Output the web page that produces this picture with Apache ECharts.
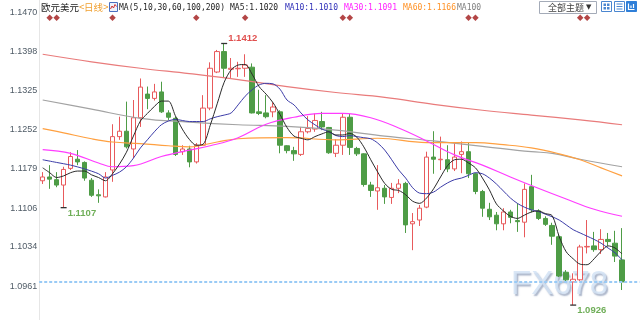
<!DOCTYPE html>
<html><head><meta charset="utf-8">
<script src="https://cdn.jsdelivr.net/npm/echarts@6/dist/echarts.min.js"></script>
<style>html,body{margin:0;padding:0;background:#fff}#c{width:640px;height:320px}</style>
</head><body><div id="c"></div>
<script>
// ---- data (EUR/USD daily) ----
const open = [1.1157,1.1164,1.1159,1.1149,1.1180,1.1197,1.1191,1.1158,1.1131,1.1127,
1.1177,1.1239,1.1249,1.1216,1.1274,1.1318,1.1310,1.1322,1.1283,1.1273,
1.1211,1.1216,1.1192,1.1223,1.1292,1.1359,1.1397,1.1364,1.1365,1.1366,
1.1368,1.1285,1.1283,1.1285,1.1285,1.1222,1.1213,1.1206,1.1248,1.1253,
1.1267,1.1256,1.1208,1.1223,1.1275,1.1217,1.1207,1.1149,1.1138,1.1143,
1.1126,1.1143,1.1152,1.1077,1.1084,1.1108,1.1201,1.1196,1.1196,1.1179,
1.1206,1.1211,1.1170,1.1137,1.1104,1.1093,1.1077,1.1099,1.1083,1.1080,
1.1146,1.1101,1.1087,1.1074,1.1053,1.0987,1.0969,1.0973,1.1034,1.1036,
1.1029,1.1048,1.1041,1.1010];
const closing = [1.1164,1.1160,1.1149,1.1178,1.1202,1.1192,1.1162,1.1130,1.1129,1.1164,
1.1239,1.1249,1.1220,1.1274,1.1331,1.1310,1.1322,1.1285,1.1275,1.1206,
1.1216,1.1192,1.1223,1.1292,1.1366,1.1397,1.1366,1.1366,1.1366,1.1372,
1.1283,1.1282,1.1276,1.1294,1.1223,1.1213,1.1207,1.1248,1.1254,1.1269,
1.1257,1.1209,1.1223,1.1275,1.1219,1.1207,1.1150,1.1139,1.1144,1.1127,
1.1143,1.1151,1.1075,1.1081,1.1106,1.1201,1.1197,1.1197,1.1179,1.1201,
1.1211,1.1170,1.1137,1.1106,1.1090,1.1077,1.1099,1.1089,1.1081,1.1141,
1.1103,1.1087,1.1076,1.1054,1.0980,1.0973,1.0974,1.1034,1.1035,1.1029,
1.1048,1.1044,1.1017,1.0969];
const low = [1.1151,1.1142,1.1145,1.1107,1.1177,1.1186,1.1157,1.1127,1.1116,1.1126,
1.1155,1.1233,1.1217,1.1199,1.1257,1.1290,1.1306,1.1283,1.1270,1.1203,
1.1205,1.1182,1.1189,1.1222,1.1288,1.1357,1.1348,1.1348,1.1350,1.1350,
1.1282,1.1279,1.1273,1.1275,1.1208,1.1208,1.1194,1.1203,1.1245,1.1248,
1.1251,1.1207,1.1201,1.1205,1.1205,1.1203,1.1146,1.1127,1.1103,1.1114,
1.1114,1.1134,1.1060,1.1028,1.1073,1.1106,1.1170,1.1177,1.1173,1.1175,
1.1171,1.1162,1.1132,1.1090,1.1084,1.1065,1.1065,1.1078,1.1062,1.1052,
1.1098,1.1084,1.1073,1.1038,1.0978,1.0969,1.0926,1.0971,1.1022,1.1025,
1.1021,1.1036,1.1006,1.0954];
const high = [1.1173,1.1186,1.1173,1.1183,1.1210,1.1214,1.1193,1.1162,1.1141,1.1173,
1.1262,1.1276,1.1304,1.1307,1.1347,1.1332,1.1337,1.1341,1.1288,1.1276,
1.1223,1.1222,1.1227,1.1316,1.1377,1.1400,1.1412,1.1385,1.1378,1.1392,
1.1375,1.1326,1.1316,1.1303,1.1288,1.1223,1.1220,1.1257,1.1277,1.1282,
1.1285,1.1257,1.1234,1.1281,1.1281,1.1220,1.1208,1.1155,1.1186,1.1149,
1.1153,1.1160,1.1155,1.1097,1.1112,1.1211,1.1249,1.1239,1.1223,1.1227,
1.1230,1.1227,1.1172,1.1140,1.1116,1.1099,1.1106,1.1103,1.1115,1.1152,
1.1168,1.1104,1.1091,1.1079,1.1056,1.0991,1.0985,1.1038,1.1084,1.1062,
1.1067,1.1060,1.1064,1.1069];

const ma5 = [1.1181,1.1172,1.1163,1.1166,1.1172,1.1175,1.1175,1.1168,1.1163,1.1157,
1.1170,1.1188,1.1210,1.1240,1.1268,1.1282,1.1295,1.1305,1.1305,1.1278,
1.1253,1.1234,1.1223,1.1225,1.1260,1.1300,1.1340,1.1363,1.1372,1.1373,
1.1355,1.1332,1.1318,1.1302,1.1280,1.1256,1.1240,1.1236,1.1233,1.1239,
1.1244,1.1248,1.1242,1.1242,1.1245,1.1238,1.1220,1.1196,1.1173,1.1152,
1.1141,1.1139,1.1131,1.1119,1.1115,1.1125,1.1142,1.1164,1.1185,1.1196,
1.1197,1.1190,1.1181,1.1162,1.1140,1.1114,1.1101,1.1091,1.1087,1.1093,
1.1099,1.1101,1.1096,1.1092,1.1053,1.1025,1.1012,1.1002,1.1001,1.1012,
1.1026,1.1036,1.1032,1.1021];
const ma10 = [1.1196,null,1.1191,null,1.1186,null,1.1179,null,1.1170,1.1162,
1.1167,1.1173,1.1183,1.1199,1.1218,1.1233,1.1248,1.1261,1.1268,1.1271,
1.1269,1.1267,1.1267,1.1267,1.1272,1.1276,1.1279,1.1283,1.1298,1.1314,
1.1326,1.1335,1.1338,1.1337,1.1327,1.1307,1.1298,1.1283,1.1270,1.1261,
1.1253,1.1248,1.1241,1.1239,1.1241,1.1239,1.1237,1.1235,1.1227,1.1214,
1.1196,1.1177,1.1162,1.1144,1.1134,1.1133,1.1136,1.1145,1.1153,1.1159,
1.1162,1.1167,1.1172,1.1170,1.1162,1.1151,1.1138,1.1125,1.1115,1.1108,
1.1103,1.1100,1.1095,1.1090,1.1084,1.1075,1.1066,1.1060,1.1054,1.1048,
1.1041,1.1032,1.1023,1.1010];
const ma30Idx = [0,4,8,10,13,17,21,24,28,32,36,40,43,47,51,55,59,63,67,71,75,79,83];
const ma30 = [1.1215,1.1208,1.1190,1.1183,1.1185,1.1202,1.1214,1.1222,1.1237,1.1262,1.1275,1.1282,1.1282,1.1274,1.1255,1.1231,1.1205,1.1186,1.1164,1.1143,1.1123,1.1104,1.1091];
const ma60Idx = [0,3,7,10,14,18,21,25,28,35,42,48,55,62,66,70,74,77,80,83];
const ma60 = [1.1254,1.1246,1.1235,1.1229,1.1226,1.1222,1.1220,1.1229,1.1235,1.1237,1.1233,1.1236,1.1228,1.1228,1.1224,1.1218,1.1207,1.1196,1.1181,1.1166];
const ma100Idx = [0,7,14,21,28,35,42,49,56,63,70,73,77,83];
const ma100 = [1.1307,1.1290,1.1273,1.1266,1.1261,1.1258,1.1251,1.1240,1.1231,1.1221,1.1211,1.1208,1.1197,1.1183];
const ma200Idx = [0,7,14,21,28,35,42,49,56,63,70,77,83];
const ma200 = [1.1392,1.1378,1.1366,1.1356,1.1345,1.1332,1.1321,1.1312,1.1299,1.1288,1.1279,1.1270,1.1261];

const yTicks = [1.1470,1.1398,1.1325,1.1252,1.1179,1.1106,1.1034,1.0961];
const eventIdx = [1,2,10,22,29,43,44,61,62,77,78];
const extremeIdx = [26,3,76];
const extremeKind = ['high','low','low'];
const maLegend = ['MA5:1.1020','MA10:1.1010','MA30:1.1091','MA60:1.1166','MA100'];

// ---- layout / style ----
const yMax = 1.14928, yMin = 1.08983;
const markerRowValue = 1.14597;
const padCats = 2;
const cats = Array.from({length: open.length + padCats}, (_, i) => String(i));
const candles = open.map((o, i) => [o, closing[i], low[i], high[i]]);
const pair = (idx, vals) => idx.map((x, k) => [x, vals[k]]);
const lastClose = closing[closing.length - 1];

const extremePos = [[7,-4],[7,6],[7,6]];
const extremeData = extremeIdx.map((i, k) => {
  const v = extremeKind[k] === 'high' ? high[i] : low[i];
  return {
    coord: [i, v], value: v,
    label: {show: true, formatter: v.toFixed(4), position: extremePos[k], align: 'left', verticalAlign: 'middle',
      color: extremeKind[k] === 'high' ? '#e0504f' : '#6fae58', fontWeight: 'bold', fontSize: 9.5, fontFamily: 'Liberation Sans'}
  };
});

const mono = '8px "DejaVu Sans Mono"';
const cjk = '9.5px "Noto Sans CJK SC"';
const HY = 7.5;
function t(x, text, fill, font) {
  return {type: 'text', x: x, y: HY, silent: true, style: {text: text, fill: fill, font: font || mono, verticalAlign: 'middle', align: 'left'}};
}
const legendX = [230, 285, 344, 403, 457];
const legendC = ['#222222', '#3030b8', '#ff22ff', '#ff9124', '#808080'];

const graphic = [
  t(41, '欧元美元', '#222', cjk),
  t(79, '<', '#f0a030', '9.5px "Liberation Sans"'),
  t(84, '日线', '#f0a030', cjk),
  t(103, '>', '#f0a030', '9.5px "Liberation Sans"'),
  {type: 'rect', shape: {x: 109.5, y: 2.5, width: 8, height: 9}, style: {fill: '#eef2fb', stroke: '#4a6fc0', lineWidth: 1}, silent: true},
  {type: 'polyline', shape: {points: [[110.5, 9], [112, 6], [113.5, 8], [115, 4.5], [116.5, 6.5]]}, style: {stroke: '#d03030', lineWidth: 1, fill: null}, silent: true},
  t(119, 'MA(5,10,30,60,100,200)', '#222'),
  ...maLegend.map((s, k) => t(legendX[k], s, legendC[k])),
  {type: 'rect', shape: {x: 539.5, y: 1.5, width: 57, height: 12}, style: {fill: '#fff', stroke: '#a4abb8', lineWidth: 1}, silent: true},
  t(548, '全部主题', '#444', '9px "Noto Sans CJK SC"'),
  t(586, '▼', '#333', '7px "DejaVu Sans"'),
  {type: 'rect', shape: {x: 601.5, y: 1.5, width: 10, height: 10}, style: {fill: '#fff', stroke: '#4a86d0', lineWidth: 1}, silent: true},
  {type: 'rect', shape: {x: 603.5, y: 3.5, width: 2.5, height: 2.5}, style: {fill: '#4a86d0'}, silent: true},
  {type: 'rect', shape: {x: 607, y: 3.5, width: 2.5, height: 2.5}, style: {fill: '#4a86d0'}, silent: true},
  {type: 'rect', shape: {x: 603.5, y: 7, width: 2.5, height: 2.5}, style: {fill: '#4a86d0'}, silent: true},
  {type: 'rect', shape: {x: 607, y: 7, width: 2.5, height: 2.5}, style: {fill: '#4a86d0'}, silent: true},
  {type: 'rect', shape: {x: 614.5, y: 1.5, width: 10, height: 10}, style: {fill: '#fff', stroke: '#4a86d0', lineWidth: 1}, silent: true},
  {type: 'polyline', shape: {points: [[616.5, 4], [622.5, 4]]}, style: {stroke: '#4a86d0', lineWidth: 1}, silent: true},
  {type: 'polyline', shape: {points: [[616.5, 6.5], [622.5, 6.5]]}, style: {stroke: '#4a86d0', lineWidth: 1}, silent: true},
  {type: 'polyline', shape: {points: [[616.5, 9], [622.5, 9]]}, style: {stroke: '#4a86d0', lineWidth: 1}, silent: true},
  {type: 'rect', shape: {x: 626.5, y: 1.5, width: 10, height: 10}, style: {fill: '#2f7fd8', stroke: '#2f7fd8', lineWidth: 1}, silent: true},
  {type: 'polyline', shape: {points: [[628.5, 3.5], [628.5, 9.5], [634.5, 9.5]]}, style: {stroke: '#fff', lineWidth: 1.2, fill: null}, silent: true},
  {type: 'polyline', shape: {points: [[631, 8], [631, 5.5]]}, style: {stroke: '#fff', lineWidth: 1.2}, silent: true},
  {type: 'polyline', shape: {points: [[633.5, 8], [633.5, 4]]}, style: {stroke: '#fff', lineWidth: 1.2}, silent: true},
  {type: 'text', x: 511, y: 285, z: -10, silent: true,
    style: {text: 'FX678', font: '33px "Liberation Sans"', fill: 'rgba(212,227,245,0.85)', verticalAlign: 'middle', align: 'left',
      textShadowColor: 'rgba(110,130,165,0.7)', textShadowOffsetX: 1.5, textShadowOffsetY: 1.5, textShadowBlur: 1.5}}
];

const lineS = (name, data, color, width, smooth) => ({
  name: name, type: 'line', data: data, symbol: 'none', smooth: smooth, connectNulls: true,
  lineStyle: {color: color, width: width}, silent: true, z: 3
});

const ma5Series = lineS('MA5', ma5, '#2a2a2a', 1, 0.3);
ma5Series.markLine = {symbol: ['none', 'none'], silent: true, label: {show: false}, animation: false, precision: 4,
  lineStyle: {color: '#9acbf6', type: [3, 2], width: 2}, data: [{yAxis: lastClose}]};

const option = {
  animation: false,
  backgroundColor: '#fff',
  textStyle: {fontFamily: 'Liberation Sans'},
  grid: {left: 39.2, right: 0.5, top: 0, bottom: 0, outerBoundsMode: 'none', containLabel: false},
  xAxis: {type: 'category', data: cats, boundaryGap: true, show: false},
  yAxis: {
    type: 'value', min: yMin, max: yMax, scale: true,
    axisLine: {show: true, lineStyle: {color: '#e6e6e6'}},
    axisTick: {show: false},
    splitLine: {show: false},
    axisLabel: {customValues: yTicks, formatter: v => v.toFixed(4), color: '#4f5b66', fontSize: 9, fontFamily: 'Liberation Sans', margin: 2}
  },
  series: [
    {
      type: 'candlestick', data: candles, barWidth: 5, silent: true, z: 2,
      itemStyle: {color: '#ffffff', color0: '#4e9c46', borderColor: '#e85a5c', borderColor0: '#4e9c46', borderWidth: 1},
      markPoint: {symbol: 'rect', symbolSize: [6, 1.3], itemStyle: {color: '#333'}, silent: true, data: extremeData}
    },
    lineS('MA200', pair(ma200Idx, ma200), '#e97b7b', 1.2, 0.4),
    lineS('MA100', pair(ma100Idx, ma100), '#a3a3a3', 1.2, 0.4),
    lineS('MA60', pair(ma60Idx, ma60), '#ffa040', 1.2, 0.4),
    lineS('MA30', pair(ma30Idx, ma30), '#ff3cff', 1.2, 0.4),
    lineS('MA10', ma10, '#3c3ca8', 1, 0.3),
    ma5Series,
    {type: 'scatter', data: eventIdx.map(i => [i, markerRowValue]), symbol: 'diamond', symbolSize: [6.5, 6.5],
      itemStyle: {color: '#a01818'}, silent: true, z: 4}
  ],
  graphic: graphic
};

const chart = echarts.init(document.getElementById('c'), null, {renderer: 'canvas'});
chart.setOption(option);
</script>
</body></html>
